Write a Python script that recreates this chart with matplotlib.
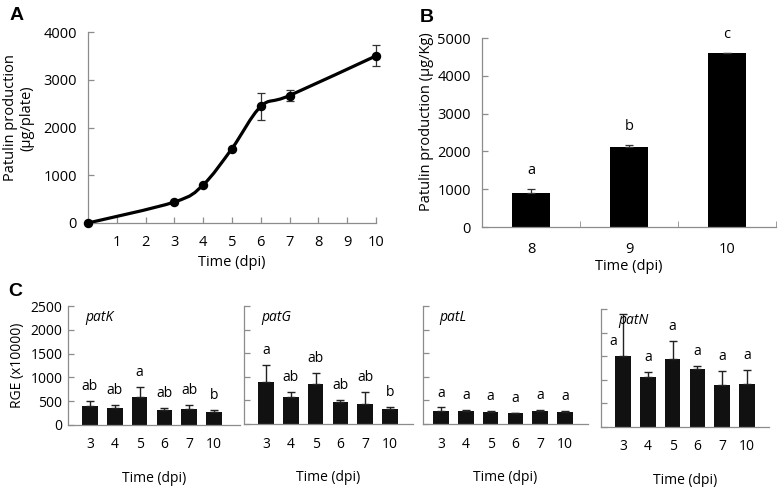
import numpy as np
import matplotlib
matplotlib.use("Agg")
import matplotlib.pyplot as plt
from matplotlib.path import Path
from matplotlib.patches import PathPatch

plt.rcParams['font.family'] = ['Open Sans', 'DejaVu Sans']

# A: patulin production on plates
days_a = [0, 3, 4, 5, 6, 7, 10]
patulin_plate = [0, 440, 800, 1560, 2440, 2670, 3500]
patulin_plate_err = [0, 0, 0, 0, 280, 110, 220]

# B: patulin production in apples
days_b = ['8', '9', '10']
patulin_kg = [910, 2120, 4590]
patulin_kg_err = [90, 50, 10]
letters_b = ['a', 'b', 'c']

# C: relative gene expression
days_c = ['3', '4', '5', '6', '7', '10']
genes = ['patK', 'patG', 'patL', 'patN']
rge = {
    'patK': [400, 360, 580, 310, 330, 280],
    'patG': [880, 570, 840, 460, 420, 320],
    'patL': [270, 265, 245, 225, 265, 260],
    'patN': [1500, 1050, 1450, 1220, 890, 910],
}
rge_err = {
    'patK': [100, 60, 225, 40, 100, 30],
    'patG': [380, 110, 250, 55, 265, 35],
    'patL': [80, 30, 40, 15, 35, 20],
    'patN': [900, 120, 380, 70, 300, 300],
}
letters_c = {
    'patK': ['ab', 'ab', 'a', 'ab', 'ab', 'b'],
    'patG': ['a', 'ab', 'ab', 'ab', 'ab', 'b'],
    'patL': ['a', 'a', 'a', 'a', 'a', 'a'],
    'patN': ['a', 'a', 'a', 'a', 'a', 'a'],
}

W, H = 778, 487
fig = plt.figure(figsize=(W / 100, H / 100), dpi=100)

def px_axes(left, right, top, bottom):
    return fig.add_axes([left / W, 1 - bottom / H, (right - left) / W, (bottom - top) / H])

spine_col = '#8c8c8c'

def style(ax):
    for s in ['top', 'right']:
        ax.spines[s].set_visible(False)
    for s in ['left', 'bottom']:
        ax.spines[s].set_color(spine_col)
        ax.spines[s].set_linewidth(0.9)
    ax.tick_params(direction='in', color=spine_col, width=0.9, length=4)

# ---- panel A
axA = px_axes(88, 376, 32, 223)
style(axA)
x = np.array(days_a, float)
y = np.array(patulin_plate, float)
# Excel-like smoothed line (Bezier segments through the points)
verts = [(x[0], y[0])]
codes = [Path.MOVETO]
n = len(x)
for i in range(n - 1):
    p0 = np.array([x[max(i - 1, 0)], y[max(i - 1, 0)]])
    p1 = np.array([x[i], y[i]])
    p2 = np.array([x[i + 1], y[i + 1]])
    p3 = np.array([x[min(i + 2, n - 1)], y[min(i + 2, n - 1)]])
    c1 = p1 + (p2 - p0) / 6
    c2 = p2 - (p3 - p1) / 6
    verts += [tuple(c1), tuple(c2), tuple(p2)]
    codes += [Path.CURVE4] * 3
axA.add_patch(PathPatch(Path(verts, codes), fill=False, lw=2.3, color='black', zorder=3))
axA.errorbar(x, y, yerr=patulin_plate_err, fmt='o', color='black', ms=5.8,
             ecolor='#333333', elinewidth=0.9, capsize=3, capthick=0.9, zorder=4, clip_on=False)
axA.set_xlim(0, 10)
axA.set_ylim(0, 4000)
axA.set_xticks(range(1, 11))
axA.set_yticks(range(0, 4001, 1000))
axA.tick_params(axis='x', pad=9, labelsize=10.5)
axA.tick_params(axis='y', pad=8, labelsize=10.5)
axA.set_xlabel('Time (dpi)', fontsize=10.5, labelpad=3)
fig.text(19 / W, 1 - 118 / H, 'Patulin production\n(µg/plate)', rotation=90,
         ha='center', va='center', fontsize=10.5, linespacing=1.1, multialignment='center')
fig.text(10 / W, 1 - 20 / H, 'A', fontsize=14, fontweight='bold', family='Liberation Sans')

# ---- panel B
axB = px_axes(482, 776, 38, 227)
style(axB)
xb = np.arange(len(days_b))
axB.bar(xb, patulin_kg, width=0.38, color='black', zorder=2)
axB.errorbar(xb, patulin_kg, yerr=[np.zeros(3), patulin_kg_err], fmt='none',
             ecolor='#333333', elinewidth=0.9, capsize=3, capthick=0.9)
for xi, v, e, t in zip(xb, patulin_kg, patulin_kg_err, letters_b):
    axB.annotate(t, (xi, v + e), xytext=(0, 8), textcoords='offset points',
                 ha='center', va='bottom', fontsize=10.5)
axB.set_xlim(-0.5, 2.5)
axB.set_ylim(0, 5000)
axB.set_yticks(range(0, 5001, 1000))
axB.set_xticks(xb)
axB.set_xticklabels(days_b)
axB.set_xticks([0.5, 1.5, 2.5], minor=True)
axB.tick_params(axis='x', which='major', length=0, pad=11, labelsize=10.5)
axB.tick_params(axis='x', which='minor', direction='in', length=4, color=spine_col)
axB.tick_params(axis='y', pad=8, labelsize=10.5)
axB.set_xlabel('Time (dpi)', fontsize=10.5, labelpad=1)
fig.text(426 / W, 1 - 122 / H, 'Patulin production (µg/Kg)', rotation=90,
         ha='center', va='center', fontsize=10.5)
fig.text(420 / W, 1 - 22 / H, 'B', fontsize=14, fontweight='bold', family='Liberation Sans')

# ---- panel C
boxes = {
    'patK': (68, 240, 306, 425, 90),
    'patG': (244, 413, 306, 424, 266),
    'patL': (423, 588, 306, 424, 441),
    'patN': (601, 769, 309, 427, 623),
}
step = 24.8
for g in genes:
    left, right, top, bottom, first = boxes[g]
    ax = px_axes(left, right, top, bottom)
    style(ax)
    xc = np.arange(len(days_c))
    vals = np.array(rge[g])
    errs = np.array(rge_err[g])
    ax.bar(xc, vals, width=0.63, color='#111111', zorder=2)
    ax.errorbar(xc, vals, yerr=[np.zeros(len(xc)), errs], fmt='none',
                ecolor='#222222', elinewidth=1.0, capsize=3, capthick=1.0, clip_on=False)
    for i, (v, e, t) in enumerate(zip(vals, errs, letters_c[g])):
        if g == 'patN' and i == 0:
            ax.annotate(t, (i - 0.4, v + 150), ha='center', va='bottom', fontsize=10)
        else:
            ax.annotate(t, (i, v + e), xytext=(0, 5), textcoords='offset points',
                        ha='center', va='bottom', fontsize=10)
    ax.set_xlim((left - first) / step, (right - first) / step)
    ax.set_ylim(0, 2500)
    ax.set_yticks(range(0, 2501, 500))
    ax.set_xticks(xc)
    ax.set_xticklabels(days_c)
    ax.tick_params(axis='x', length=0, pad=9, labelsize=10)
    ax.tick_params(axis='y', pad=4, labelsize=10)
    if g != 'patK':
        ax.set_yticklabels([])
    else:
        ax.set_ylabel('RGE (x10000)', fontsize=10, labelpad=4)
    ax.set_xlabel('Time (dpi)', fontsize=10, labelpad=13)
    ax.text(0.1, 0.9, g, transform=ax.transAxes, style='italic', fontsize=10,
            ha='left', va='center')
fig.text(8 / W, 1 - 296 / H, 'C', fontsize=14, fontweight='bold', family='Liberation Sans')

fig.savefig('out.png', dpi=100)
